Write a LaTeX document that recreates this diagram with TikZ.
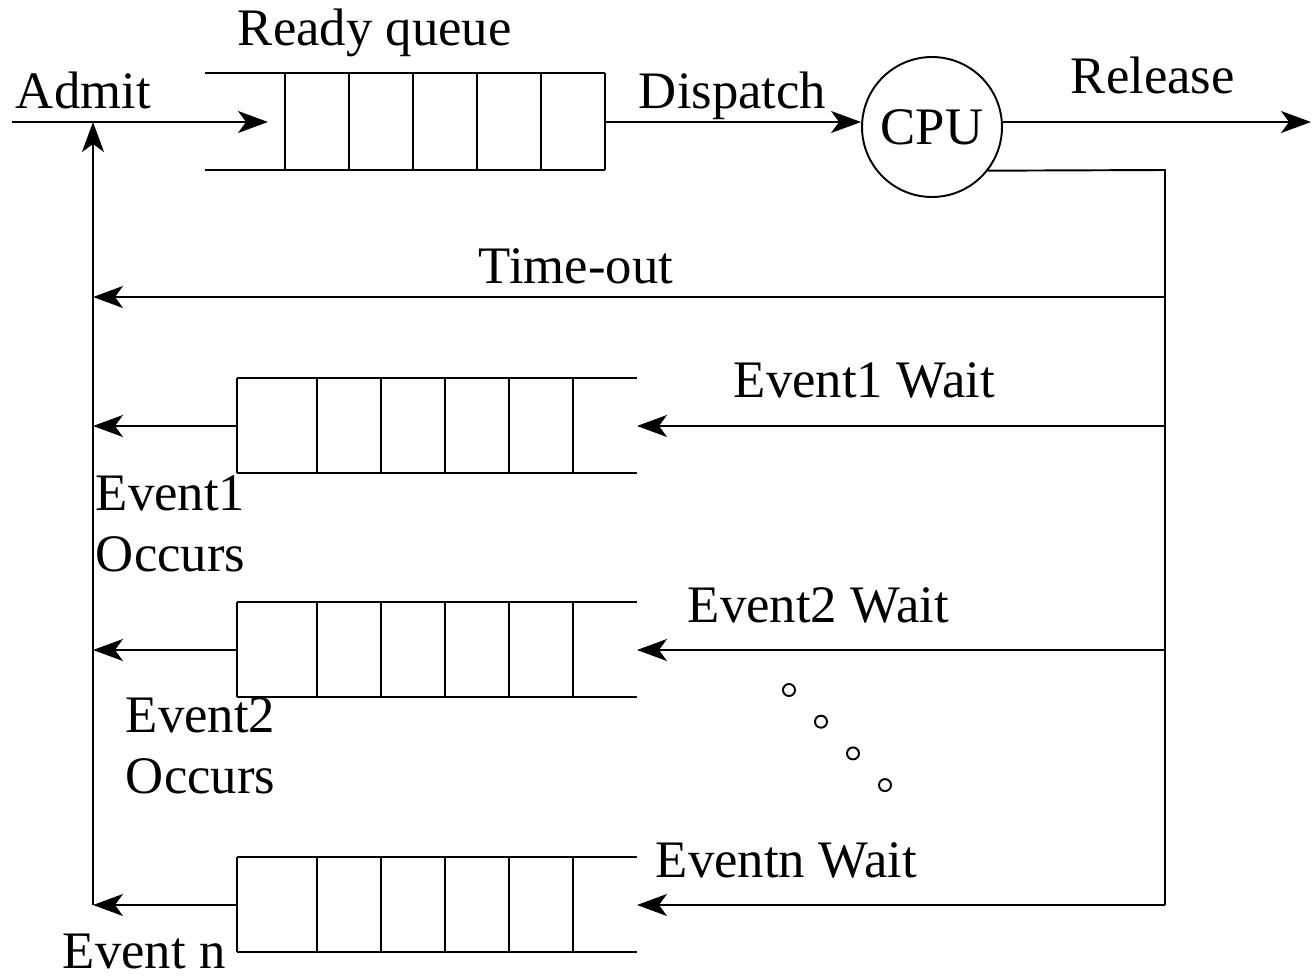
\documentclass[tikz,border=0pt]{standalone}
\usepackage{fontspec}
\setmainfont{Liberation Serif}
\usetikzlibrary{arrows.meta}

\begin{document}
\begin{tikzpicture}[x=0.02cm, y=-0.02cm, line width=1.1pt,
    every node/.style={font=\fontsize{30}{35}\selectfont, inner sep=0pt},
    lbl/.style={anchor=base west},
    flow/.style={-{Stealth[length=0.6cm, width=0.44cm, inset=0.16cm]}},
    gapdot/.style={circle, draw, minimum size=0.24cm, inner sep=0pt}]
    \useasboundingbox (0,0) rectangle (1312,977);

    % Ready queue (open on the left)
    \draw (205,73) -- (605,73);
    \draw (205,170) -- (605,170);
    \foreach \x in {285,349,413,477,541,605}
        \draw (\x,73) -- (\x,170);

    % Event queues (open on the right)
    \foreach \y/\q in {378/q1, 602/q2, 857/qn} {
        \draw (237,\y) -- (637,\y);
        \draw (237,\y+95) -- (637,\y+95);
        \foreach \x in {237,317,381,445,509,573}
            \draw (\x,\y) -- (\x,\y+95);
        \coordinate (\q-in) at (637,\y+48);
        \coordinate (\q-out) at (237,\y+48);
    }

    % Processor
    \node[circle, draw, minimum size=2.8cm] (cpu) at (932,127) {CPU};

    % Corner points of the feedback loop
    \coordinate (in) at (12,122);
    \coordinate (rq-in) at (268,122);
    \coordinate (rq-out) at (605,122);
    \coordinate (out) at (1311,122);
    \coordinate (rt) at (1165,170);
    \coordinate (rb) at (1165,905);
    \coordinate (lt) at (93,122);
    \coordinate (lb) at (93,905);
    \coordinate (to) at (1165,297);

    % Draw connections
    \draw[flow] (in) -- (rq-in);
    \draw[flow] (rq-out) -- (rq-out -| cpu.west);
    \draw[flow] (rq-out -| cpu.east) -- (out);
    \draw (cpu.-38) -- (rt) -- (rb);
    \draw[flow] (lb) -- (lt);
    \draw[flow] (to) -- (to -| lt);
    \draw[flow] (q1-in -| rt) -- (q1-in);
    \draw[flow] (q2-in -| rt) -- (q2-in);
    \draw[flow] (rb) -- (qn-in);
    \draw[flow] (q1-out) -- (q1-out -| lt);
    \draw[flow] (q2-out) -- (q2-out -| lt);
    \draw[flow] (qn-out) -- (lb);

    % Dots between the event queues
    \foreach \i in {0,...,3}
        \node[gapdot] (d\i) at (789+32*\i,690+31.7*\i) {};

    % Labels
    \node[lbl] (admit) at (15,108) {Admit};
    \node[lbl] (rqlabel) at (237,45) {Ready queue};
    \node[lbl] (dispatch) at (638,108) {Dispatch};
    \node[lbl] (release) at (1070,93) {Release};
    \node[lbl] (timeout) at (478,283) {Time-out};
    \node[lbl] (w1) at (733,397) {Event1 Wait};
    \node[lbl] (w2) at (687,622) {Event2 Wait};
    \node[lbl] (wn) at (655,877) {Eventn Wait};
    \node[lbl] (o1a) at (95,510) {Event1};
    \node[lbl] (o1b) at (95,571) {Occurs};
    \node[lbl] (o2a) at (125,732) {Event2};
    \node[lbl] (o2b) at (125,793) {Occurs};
    \node[lbl] (on) at (62,968) {Event n};
\end{tikzpicture}
\end{document}
